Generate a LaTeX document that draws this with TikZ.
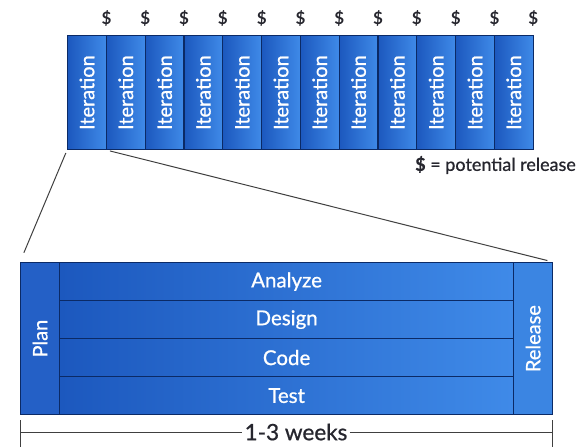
\documentclass[tikz,border=0pt]{standalone}
\usepackage{fontspec}
\setmainfont{Lato}
\newfontfamily\semilato[FakeBold=0.8]{Lato}
\begin{document}
\begin{tikzpicture}[x=1pt,y=-1pt,
  edge/.style={draw=navy,line width=1.2pt},
  iterbox/.style={edge,left color=blueD,right color=blueL,minimum width=38.8pt,minimum height=114pt,inner sep=0pt,anchor=north west},
  rowbox/.style={edge,left color=blueD,right color=blueL,minimum width=454pt,minimum height=38pt,inner sep=0pt,anchor=north west},
  sidebox/.style={edge,inner sep=0pt,anchor=north west,minimum width=39pt,minimum height=152pt},
  wtxt/.style={text=white,font=\semilato\fontsize{20}{20}\selectfont},
  rowtxt/.style={text=white,font=\semilato\fontsize{20.5}{20.5}\selectfont},
  dollar/.style={text=txtgray,font=\bfseries\fontsize{17}{17}\selectfont,inner sep=0pt},
  thin/.style={draw=black!75,line width=1pt}]
\definecolor{navy}{HTML}{0B2A66}
\definecolor{blueD}{HTML}{1C58BE}
\definecolor{blueL}{HTML}{3F8AE8}
\definecolor{plancol}{HTML}{2460C6}
\definecolor{relcol}{HTML}{3B85E2}
\definecolor{txtgray}{HTML}{26262E}
\useasboundingbox (0,0) rectangle (588,447);
% iterations
\foreach \i in {0,...,11}{
  \node[iterbox] (it\i) at ({67+38.8*\i},35) {};
  \node[wtxt,rotate=90] at (it\i.center) {Iteration};
  \node[dollar] (d\i) at ({106.5+38.8*\i},18) {\$};
}
\node[text=txtgray,font=\semilato\fontsize{18}{18}\selectfont,anchor=west,inner sep=0pt] (legend) at (415,165) {\textbf{\$} = potential release};
% big box
\node[sidebox,fill=plancol] (plan) at (20,262) {};
\node[wtxt,rotate=90] at (plan.center) {Plan};
\node[sidebox,fill=relcol] (rel) at (513,262) {};
\node[wtxt,rotate=90] at (rel.center) {Release};
\node[rowbox] (an) at (59,262) {};
\node[rowbox] (de) at (59,300) {};
\node[rowbox] (co) at (59,338) {};
\node[rowbox] (te) at (59,376) {};
\node[rowtxt] at (an.center) {Analyze};
\node[rowtxt] at (de.center) {Design};
\node[rowtxt] at (co.center) {Code};
\node[rowtxt] at (te.center) {Test};
% zoom lines
\draw[thin,shorten <=3pt,shorten >=10pt] (it0.south west) -- (plan.north west);
\draw[thin,shorten <=3pt,shorten >=6pt] (it0.south east) -- (rel.north east);
% dimension
\coordinate (l1) at (20,420);
\coordinate (l2) at (20,447);
\coordinate (r1) at (552,420);
\coordinate (r2) at (552,447);
\draw[thin] (l1) -- (l2);
\draw[thin] (r1) -- (r2);
\node[text=txtgray,font=\semilato\fontsize{22.5}{22.5}\selectfont,fill=white,inner xsep=2pt,inner ysep=0pt] (wk) at (296,432) {1-3 weeks};
\draw[thin] (20,432) -- (wk.west);
\draw[thin] (wk.east) -- (552,432);
\end{tikzpicture}
\end{document}
